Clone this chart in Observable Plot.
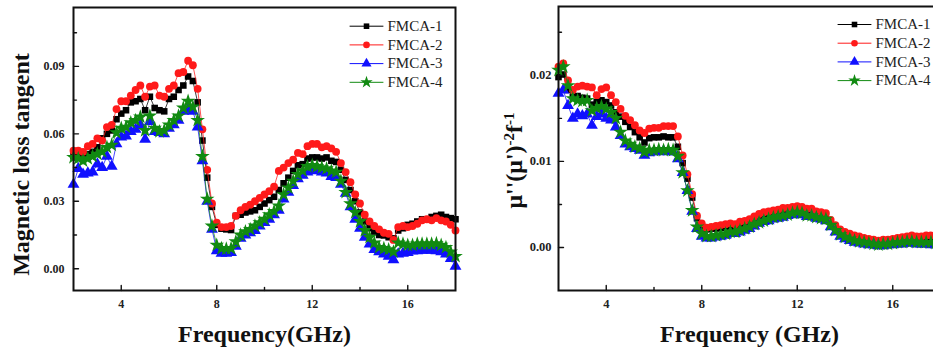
<!DOCTYPE html>
<html><head><meta charset="utf-8">
<script src="https://cdn.jsdelivr.net/npm/d3@7"></script>
<script src="https://cdn.jsdelivr.net/npm/@observablehq/plot@0.6"></script>
<style>
html,body{margin:0;padding:0;background:#fff;overflow:hidden;}
#wrap{position:relative;width:933px;height:351px;overflow:hidden;background:#fff;}
#left{position:absolute;left:0;top:0;width:470px;height:351px;}
#right{position:absolute;left:470px;top:0;width:480px;height:351px;}
</style></head><body>
<div id="wrap"><div id="left"></div><div id="right"></div></div>
<script>
// ---------- data ----------
const freq = [
 2,2.2,2.4,2.6,2.8,3,3.2,3.4,3.6,3.8,
 4,4.2,4.4,4.6,4.8,5,5.2,5.4,5.6,5.8,
 6,6.2,6.4,6.6,6.8,7,7.2,7.4,7.6,7.8,
 8,8.2,8.4,8.6,8.8,9,9.2,9.4,9.6,9.8,
 10,10.2,10.4,10.6,10.8,11,11.2,11.4,11.6,11.8,
 12,12.2,12.4,12.6,12.8,13,13.2,13.4,13.6,13.8,
 14,14.2,14.4,14.6,14.8,15,15.2,15.4,15.6,15.8,
 16,16.2,16.4,16.6,16.8,17,17.2,17.4,17.6,17.8,
 18];
const seriesNames = ["FMCA-1","FMCA-2","FMCA-3","FMCA-4"];

// Magnetic loss tangent (left panel)
const tanFMCA1 = [
 .050,.0505,.050,.051,.052,.054,.058,.060,.0615,.0665,
 .069,.0705,.074,.0745,.0755,.0705,.0765,.0715,.0705,.070,
 .0755,.0765,.0795,.0815,.0855,.0835,.074,.057,.0405,.0275,
 .0195,.0178,.0175,.0172,.0235,.024,.025,.0255,.026,.0275,
 .029,.0305,.032,.035,.038,.0405,.0435,.046,.0465,.049,
 .0495,.0495,.049,.0495,.048,.0475,.044,.0395,.035,.030,
 .025,.021,.018,.0165,.015,.0148,.014,.0135,.017,.018,
 .0195,.020,.021,.022,.022,.023,.0235,.024,.023,.0225,
 .022];
const tanFMCA2 = [
 .0525,.0525,.052,.0545,.0555,.058,.057,.063,.064,.071,
 .0745,.0745,.077,.0795,.0815,.0765,.081,.0815,.077,.0765,
 .080,.0815,.087,.0875,.0925,.0905,.080,.062,.044,.029,
 .0205,.0185,.0185,.019,.0235,.026,.0275,.0285,.030,.0315,
 .033,.0345,.0365,.0435,.045,.047,.0485,.0515,.051,.0545,
 .0555,.0555,.054,.0545,.0535,.052,.047,.043,.0385,.033,
 .029,.024,.021,.019,.0175,.016,.0155,.0128,.0185,.019,
 .0185,.019,.020,.0215,.022,.0215,.0225,.0215,.021,.0195,
 .017];
const tanFMCA3 = [
 .0375,.0445,.042,.0425,.043,.0465,.045,.050,.0455,.0555,
 .0585,.059,.061,.062,.064,.0575,.0655,.061,.0605,.060,
 .0625,.064,.066,.070,.071,.070,.063,.048,.030,.0175,
 .008,.0068,.0068,.0072,.010,.0135,.015,.016,.017,.019,
 .0205,.022,.024,.026,.031,.034,.037,.040,.0415,.043,
 .0437,.0435,.043,.0425,.041,.0405,.0375,.0335,.0275,.022,
 .018,.014,.011,.0085,.0075,.0065,.0055,.004,.0065,.0068,
 .0072,.0078,.008,.0082,.0082,.0082,.008,.0075,.0065,.0045,
 .001];
const tanFMCA4 = [
 .0495,.049,.048,.049,.050,.051,.052,.054,.055,.0605,
 .0625,.063,.065,.066,.0675,.0615,.068,.0625,.061,.0615,
 .064,.066,.068,.0715,.0745,.072,.066,.050,.031,.019,
 .0105,.009,.0088,.009,.012,.015,.0165,.0175,.019,.0205,
 .022,.024,.0255,.028,.033,.036,.039,.042,.0435,.0455,
 .046,.0455,.045,.0445,.0435,.043,.039,.034,.029,.025,
 .021,.017,.014,.0115,.0095,.009,.0085,.0075,.0115,.011,
 .0105,.0105,.011,.011,.011,.011,.0112,.0105,.0095,.0075,
 .0055];

// mu''(mu')^-2 f^-1 (right panel)
const eddyFMCA1 = [
 .0198,.0201,.0183,.0175,.0176,.0174,.0173,.0166,.0169,.0171,
 .0169,.0165,.0157,.0152,.0146,.0140,.0134,.0128,.0122,.0127,
 .0128,.0128,.0129,.0128,.0128,.0117,.0098,.0080,.0058,.0034,
 .0025,.0021,.0022,.0022,.0023,.0024,.0025,.0024,.0027,.0029,
 .0031,.0033,.0035,.0037,.0038,.0039,.0040,.0041,.0042,.0043,
 .0044,.0043,.0041,.0041,.0038,.0037,.0036,.0030,.0022,.0017,
 .0014,.0012,.0011,.0009,.0008,.0007,.0006,.0005,.0006,.0006,
 .0007,.0008,.0009,.0009,.0010,.0009,.0009,.0009,.0009,.0008,
 .0008];
const eddyFMCA2 = [
 .0210,.0214,.0194,.0183,.0187,.0188,.0187,.0186,.0177,.0184,
 .0186,.0177,.0169,.0161,.0153,.0148,.0142,.0136,.0133,.0138,
 .0139,.0139,.0141,.0141,.0141,.0129,.0107,.0085,.0062,.0037,
 .0028,.0023,.0024,.0025,.0026,.0027,.0028,.0027,.0030,.0031,
 .0033,.0036,.0039,.0041,.0042,.0043,.0044,.0046,.0046,.0047,
 .0048,.0047,.0045,.0045,.0042,.0041,.0040,.0032,.0026,.0021,
 .0018,.0016,.0014,.0013,.0011,.0010,.0009,.0008,.0009,.0009,
 .0010,.0011,.0012,.0013,.0014,.0013,.0013,.0014,.0014,.0013,
 .0013];
const eddyFMCA3 = [
 .0179,.0183,.0165,.0150,.0155,.0153,.0155,.0142,.0152,.0155,
 .0150,.0148,.0140,.0130,.0120,.0117,.0115,.0113,.0107,.0110,
 .0111,.0111,.0112,.0111,.0111,.0103,.0087,.0066,.0042,.0022,
 .0013,.0011,.0011,.0012,.0013,.0014,.0016,.0016,.0018,.0020,
 .0022,.0025,.0028,.0030,.0031,.0033,.0034,.0035,.0037,.0038,
 .0039,.0038,.0036,.0036,.0034,.0033,.0031,.0024,.0018,.0013,
 .0010,.0008,.0006,.0005,.0004,.0003,.0003,.0002,.0002,.0003,
 .0003,.0004,.0004,.0005,.0005,.0004,.0004,.0004,.0003,.0003,
 .0002];
const eddyFMCA4 = [
 .0206,.0210,.0188,.0173,.0171,.0170,.0171,.0159,.0162,.0164,
 .0161,.0157,.0150,.0134,.0124,.0120,.0117,.0115,.0111,.0113,
 .0113,.0114,.0113,.0114,.0113,.0106,.0087,.0066,.0043,.0024,
 .0016,.0013,.0013,.0014,.0015,.0016,.0018,.0018,.0020,.0022,
 .0024,.0027,.0029,.0031,.0033,.0035,.0036,.0037,.0038,.0040,
 .0041,.0040,.0037,.0037,.0035,.0034,.0033,.0026,.0020,.0015,
 .0012,.0010,.0008,.0007,.0006,.0005,.0004,.0003,.0004,.0004,
 .0005,.0006,.0006,.0007,.0007,.0006,.0006,.0006,.0006,.0005,
 .0005];

// ticks & labels
const xMajorTicks = [4, 8, 12, 16];
const xMinorTicks = [6, 10, 14];
const yMajorLeft = [0, 0.03, 0.06, 0.09];
const yMinorLeft = [0.015, 0.045, 0.075, 0.105];
const yMajorRight = [0, 0.01, 0.02];
const yMinorRight = [0.005, 0.015, 0.025];
const xTitleLeft = "Frequency(GHz)";
const xTitleRight = "Frequency (GHz)";
const yTitleLeft = "Magnetic loss tangent";
const yTitleRightParts = [{t: "μ''(μ')"}, {t: "-2", sup: true}, {t: "f"}, {t: "-1", sup: true}];

// ---------- styling ----------
const seriesColors = ["#000000", "#ff1a1a", "#1010ff", "#118a11"];
const seriesSymbols = ["square", "circle", "triangle", "star"];
const seriesR = [3.7, 3.9, 4.4, 4.6];
const serif = "'Liberation Serif','Times New Roman',serif";
const lineShape = {draw(ctx, l) { ctx.moveTo(0, 0); ctx.lineTo(0, -l); }};

function panel(cfg) {
  const marks = [];
  cfg.series.forEach((vals, i) => {
    const rows = freq.map((f, j) => ({f, v: vals[j]}));
    marks.push(Plot.line(rows, {x: "f", y: "v", stroke: seriesColors[i], strokeWidth: 0.9, strokeOpacity: 0.85}));
    marks.push(Plot.dot(rows, {x: "f", y: "v", symbol: seriesSymbols[i], r: seriesR[i], fill: seriesColors[i]}));
  });
  seriesNames.forEach((name, i) => {
    const dy = cfg.legendY + i * 18.7;
    marks.push(Plot.vector([name], {frameAnchor: "top-left", dx: cfg.legendX, dy, length: 33, rotate: 90, anchor: "middle", shape: lineShape, stroke: seriesColors[i], strokeWidth: 1}));
    marks.push(Plot.dot([name], {frameAnchor: "top-left", dx: cfg.legendX, dy, symbol: seriesSymbols[i], r: seriesR[i] * 0.85, fill: seriesColors[i]}));
    marks.push(Plot.text([name], {frameAnchor: "top-left", dx: cfg.legendX + 21, dy, text: d => d, textAnchor: "start", lineAnchor: "middle", fontSize: 15, fill: "#222", fontFamily: serif}));
  });
  // tick labels
  marks.push(Plot.axisX({ticks: xMajorTicks, tickSize: 0, tickPadding: 9, label: null, fontSize: cfg.tickFont, fontWeight: "bold", fontFamily: serif, fill: "#222"}));
  marks.push(Plot.axisY({ticks: cfg.yMajor, tickSize: 0, tickPadding: cfg.yPad, label: null, tickFormat: d3.format(".2f"), fontSize: cfg.tickFont, fontWeight: "bold", fontFamily: serif, fill: "#222"}));
  // inward ticks
  marks.push(Plot.vector(xMajorTicks, {x: d => d, frameAnchor: "bottom", length: 5, rotate: 0, anchor: "start", shape: lineShape, stroke: "#111", strokeWidth: 1.4}));
  marks.push(Plot.vector(xMinorTicks, {x: d => d, frameAnchor: "bottom", length: 3, rotate: 0, anchor: "start", shape: lineShape, stroke: "#111", strokeWidth: 1.4}));
  marks.push(Plot.vector(cfg.yMajor, {y: d => d, frameAnchor: "left", length: 5, rotate: 90, anchor: "start", shape: lineShape, stroke: "#111", strokeWidth: 1.4}));
  marks.push(Plot.vector(cfg.yMinor, {y: d => d, frameAnchor: "left", length: 3, rotate: 90, anchor: "start", shape: lineShape, stroke: "#111", strokeWidth: 1.4}));
  // axis titles
  marks.push(Plot.text([cfg.xTitle], {frameAnchor: "bottom", dy: 44, text: d => d, textAnchor: "middle", lineAnchor: "middle", fontSize: 24, fontWeight: "bold", fontFamily: serif, fill: "#111"}));
  marks.push(Plot.text([cfg.yTitle], {frameAnchor: "left", dx: cfg.yTitleDx, dy: cfg.yTitleDy, rotate: -90, text: d => d, textAnchor: "middle", lineAnchor: "middle", fontSize: 24, fontWeight: "bold", fontFamily: serif, fill: "#111"}));
  marks.push(Plot.frame({stroke: "#111", strokeWidth: 2}));
  return Plot.plot({
    width: cfg.width, height: 351,
    marginLeft: cfg.ml, marginRight: cfg.mr, marginTop: cfg.mt, marginBottom: 351 - 290,
    x: {domain: [2, 18]},
    y: {domain: cfg.yDomain},
    style: {fontFamily: serif, background: "white", color: "#111", maxWidth: "none", overflow: "visible"},
    marks
  });
}

const left = panel({
  width: 470, ml: 73, mr: 15, mt: 7,
  yDomain: [-0.0097, 0.1162],
  series: [tanFMCA1, tanFMCA2, tanFMCA3, tanFMCA4],
  yMajor: yMajorLeft, yMinor: yMinorLeft, yPad: 9, tickFont: 12,
  legendX: 293, legendY: 18.7,
  xTitle: xTitleLeft, yTitle: yTitleLeft, yTitleDx: -52, yTitleDy: 15.5
});
document.getElementById("left").appendChild(left);

const yTitleRightPlain = yTitleRightParts.map(p => p.t).join("");
const right = panel({
  width: 480, ml: 88, mr: 10, mt: 6,
  yDomain: [-0.005, 0.028],
  series: [eddyFMCA1, eddyFMCA2, eddyFMCA3, eddyFMCA4],
  yMajor: yMajorRight, yMinor: yMinorRight, yPad: 7, tickFont: 12.5,
  legendX: 296, legendY: 18,
  xTitle: xTitleRight, yTitle: yTitleRightPlain, yTitleDx: -44, yTitleDy: 12
});
document.getElementById("right").appendChild(right);

// rebuild the right y title with superscripts
d3.select(right).selectAll("text")
  .filter(function() { return this.textContent === yTitleRightPlain; })
  .each(function() {
    const t = d3.select(this);
    t.text(null);
    yTitleRightParts.forEach(p => {
      const s = t.append("tspan").text(p.t);
      if (p.sup) s.attr("baseline-shift", "super").attr("font-size", 15);
    });
  });
</script>
</body></html>
